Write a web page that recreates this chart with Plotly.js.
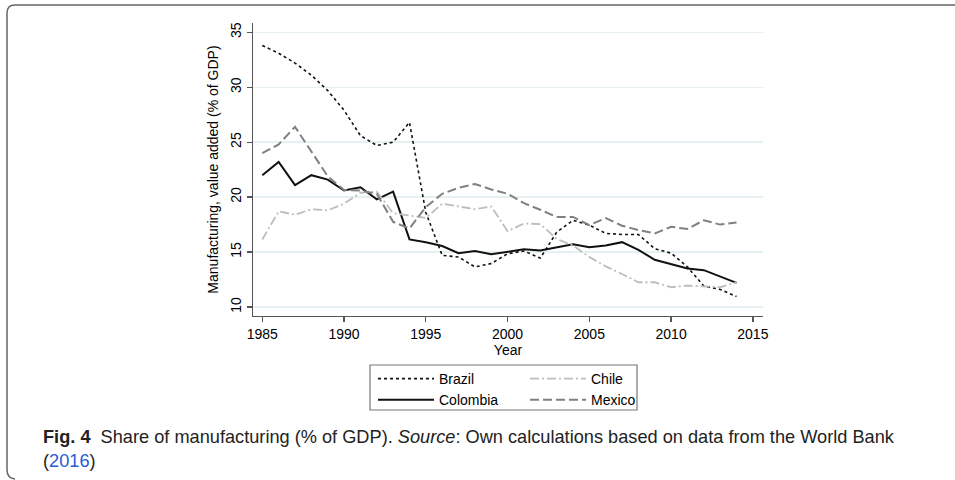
<!DOCTYPE html>
<html>
<head>
<meta charset="utf-8">
<script src="https://cdn.plot.ly/plotly-3.0.1.min.js"></script>
<style>html,body{margin:0;padding:0;background:#fff;}#chart{width:955px;height:480px;}</style>
</head>
<body>
<div id="chart"></div>
<script>
var years = [1985,1986,1987,1988,1989,1990,1991,1992,1993,1994,1995,1996,1997,1998,1999,2000,2001,2002,2003,2004,2005,2006,2007,2008,2009,2010,2011,2012,2013,2014];
var brazil = [33.8,33.1,32.2,31.1,29.7,27.9,25.6,24.7,25.0,26.8,18.6,14.7,14.55,13.65,13.95,14.85,15.1,14.45,16.8,17.9,17.45,16.7,16.6,16.6,15.3,14.9,13.65,11.9,11.6,10.95];
var colombia = [22.0,23.2,21.1,22.0,21.6,20.6,20.9,19.8,20.5,16.15,15.9,15.55,14.9,15.1,14.8,15.05,15.25,15.15,15.45,15.7,15.45,15.6,15.9,15.2,14.3,13.9,13.5,13.35,12.8,12.2];
var chile = [16.15,18.7,18.4,18.9,18.8,19.4,20.4,20.5,18.55,18.35,18.1,19.4,19.15,18.9,19.15,16.9,17.6,17.55,16.2,15.6,14.55,13.7,13.0,12.25,12.25,11.8,11.95,11.9,11.8,12.25];
var mexico = [24.0,24.8,26.4,24.2,21.9,20.65,20.6,20.3,17.75,17.15,19.1,20.3,20.85,21.2,20.7,20.3,19.45,18.85,18.2,18.2,17.45,18.1,17.4,17.0,16.7,17.3,17.1,17.9,17.5,17.7];
var xTicks = [1985,1990,1995,2000,2005,2010,2015];
var yTicks = [10,15,20,25,30,35];

var FONT = 'Liberation Sans, Arial, sans-serif';
// plot area in pixels
var L = 253, R = 763, T = 23, B = 316, W = 955, H = 480;
function px(x){ return (x - L) / (R - L); }
function py(y){ return (B - y) / (B - T); }

var traces = [
  {x: years, y: brazil, name: 'Brazil', mode: 'lines', legend: 'legend',
   line: {color: '#111', width: 1.6, dash: 'dot'}},
  {x: years, y: colombia, name: 'Colombia', mode: 'lines', legend: 'legend',
   line: {color: '#111', width: 2}},
  {x: years, y: chile, name: 'Chile', mode: 'lines', legend: 'legend2',
   line: {color: '#bdbdbd', width: 1.8, dash: '9px,3px,2px,3px'}},
  {x: years, y: mexico, name: 'Mexico', mode: 'lines', legend: 'legend2',
   line: {color: '#808080', width: 2, dash: '9px,4px'}}
];

var cardPath = 'M ' + px(955) + ' ' + py(5) + ' L ' + px(15) + ' ' + py(5) +
  ' Q ' + px(7) + ' ' + py(5) + ' ' + px(7) + ' ' + py(13) +
  ' L ' + px(7) + ' ' + py(470) + ' Q ' + px(7) + ' ' + py(478) + ' ' + px(15) + ' ' + py(479);

var layout = {
  width: W, height: H,
  margin: {l: L, r: W - R, t: T, b: H - B, pad: 0},
  paper_bgcolor: '#fff', plot_bgcolor: '#fff',
  font: {family: FONT, size: 14, color: '#000'},
  showlegend: true,
  xaxis: {
    range: [1984.43, 2015.62], tickvals: xTicks, ticktext: xTicks.map(String),
    showgrid: false, zeroline: false, showline: true, linecolor: '#555', linewidth: 1.3,
    ticks: 'outside', ticklen: 5, tickcolor: '#555', tickwidth: 1.3,
    tickfont: {family: FONT, size: 14, color: '#000'},
    title: {text: 'Year', font: {family: FONT, size: 14, color: '#000'}, standoff: 2},
    automargin: false
  },
  yaxis: {
    range: [9.18, 35.85], tickvals: yTicks, ticktext: yTicks.map(String),
    showgrid: true, gridcolor: '#e6eff2', gridwidth: 1.5,
    zeroline: false, showline: true, linecolor: '#555', linewidth: 1.3,
    ticks: 'outside', ticklen: 5, tickcolor: '#555', tickwidth: 1.3, tickangle: -90,
    tickfont: {family: FONT, size: 14, color: '#000'},
    title: {text: 'Manufacturing, value added (% of GDP)', font: {family: FONT, size: 14, color: '#000'}, standoff: 6},
    automargin: false
  },
  legend: {
    x: px(373), y: py(363), xanchor: 'left', yanchor: 'top', orientation: 'v',
    bgcolor: 'rgba(0,0,0,0)', borderwidth: 0, itemwidth: 56, tracegroupgap: 0,
    font: {family: FONT, size: 14, color: '#000'}
  },
  legend2: {
    x: px(525), y: py(363), xanchor: 'left', yanchor: 'top', orientation: 'v',
    bgcolor: 'rgba(0,0,0,0)', borderwidth: 0, itemwidth: 56, tracegroupgap: 0,
    font: {family: FONT, size: 14, color: '#000'}
  },
  shapes: [
    {type: 'rect', xref: 'paper', yref: 'paper', x0: px(370), x1: px(637), y0: py(365), y1: py(410),
     line: {color: '#777', width: 1.2}, fillcolor: 'rgba(0,0,0,0)', layer: 'below'},
    {type: 'path', xref: 'paper', yref: 'paper', path: cardPath,
     line: {color: '#666', width: 1.5}}
  ],
  annotations: [
    {xref: 'paper', yref: 'paper', x: px(41), y: py(437), xanchor: 'left', yanchor: 'middle',
     showarrow: false, align: 'left',
     text: '<b>Fig. 4</b>  Share of manufacturing (% of GDP). <i>Source</i>: Own calculations based on data from the World Bank',
     font: {family: 'Liberation Sans, Arial, sans-serif', size: 18.2, color: '#222'}},
    {xref: 'paper', yref: 'paper', x: px(41), y: py(461), xanchor: 'left', yanchor: 'middle',
     showarrow: false, align: 'left',
     text: '(<span style="color:#2a5bd7">2016</span>)',
     font: {family: 'Liberation Sans, Arial, sans-serif', size: 18.2, color: '#222'}}
  ]
};

Plotly.newPlot('chart', traces, layout, {staticPlot: true, displayModeBar: false});
</script>
</body>
</html>
